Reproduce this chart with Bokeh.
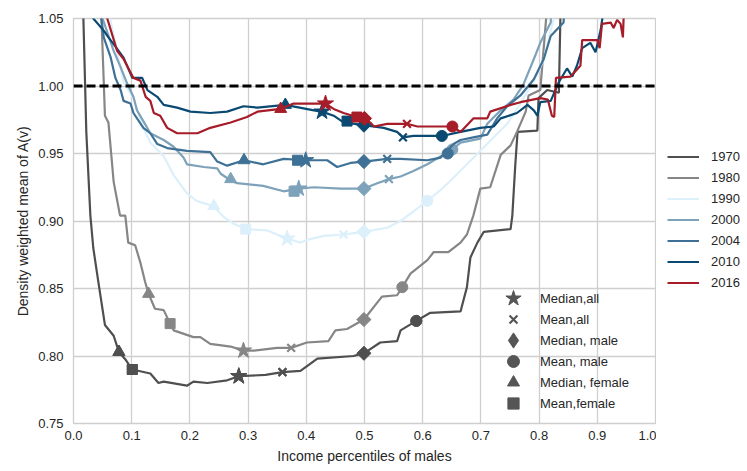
import numpy as np
from bokeh.plotting import figure
from bokeh.layouts import row
from bokeh.models import Span, Legend, LegendItem, Range1d, PrintfTickFormatter
from bokeh.embed import file_html
from bokeh.resources import INLINE

# ---------------- data ----------------
years = ["1970", "1980", "1990", "2000", "2004", "2010", "2016"]
colors = ["#4f4f4f", "#868686", "#dcf0fb", "#7da2ba", "#3e7195", "#0a4a72", "#a61c28"]

x_1970 = [0.010, 0.017, 0.022, 0.029, 0.034, 0.043, 0.054, 0.069, 0.078, 0.090, 0.101, 0.132, 0.146,
          0.155, 0.195, 0.206, 0.230, 0.264, 0.284, 0.330, 0.359, 0.390, 0.419, 0.481, 0.499, 0.527,
          0.556, 0.562, 0.589, 0.613, 0.665, 0.676, 0.682, 0.694, 0.705, 0.751, 0.754, 0.759, 0.763,
          0.797, 0.799, 0.814, 0.834, 0.837, 0.840]
y_1970 = [1.20, 1.05, 0.966, 0.904, 0.880, 0.854, 0.823, 0.815, 0.803, 0.797, 0.790, 0.787, 0.780,
          0.781, 0.778, 0.781, 0.780, 0.782, 0.785, 0.786, 0.788, 0.789, 0.798, 0.800, 0.802, 0.810,
          0.811, 0.819, 0.826, 0.832, 0.833, 0.851, 0.873, 0.884, 0.892, 0.894, 0.904, 0.941, 0.966,
          0.967, 0.991, 0.997, 0.995, 1.06, 1.10]

x_1980 = [0.046, 0.048, 0.052, 0.054, 0.060, 0.069, 0.080, 0.089, 0.094, 0.106, 0.115, 0.123, 0.129,
          0.140, 0.155, 0.166, 0.172, 0.206, 0.218, 0.235, 0.270, 0.292, 0.310, 0.350, 0.374, 0.401,
          0.438, 0.450, 0.470, 0.499, 0.530, 0.556, 0.565, 0.579, 0.608, 0.619, 0.644, 0.665, 0.676,
          0.687, 0.699, 0.716, 0.734, 0.751, 0.762, 0.777, 0.782, 0.802, 0.814, 0.818]
y_1980 = [1.10, 1.05, 1.003, 0.978, 0.973, 0.929, 0.904, 0.904, 0.884, 0.882, 0.869, 0.855, 0.846,
          0.835, 0.834, 0.824, 0.819, 0.814, 0.814, 0.809, 0.807, 0.804, 0.804, 0.806, 0.806, 0.810,
          0.811, 0.819, 0.820, 0.827, 0.844, 0.845, 0.851, 0.861, 0.871, 0.877, 0.877, 0.884, 0.890,
          0.904, 0.924, 0.925, 0.949, 0.956, 0.966, 0.981, 0.993, 0.997, 1.06, 1.10]

x_1990 = [0.060, 0.063, 0.075, 0.086, 0.103, 0.120, 0.132, 0.155, 0.160, 0.172, 0.194, 0.211, 0.218,
          0.241, 0.258, 0.275, 0.296, 0.333, 0.367, 0.390, 0.401, 0.430, 0.464, 0.499, 0.539, 0.562,
          0.590, 0.608, 0.631, 0.653, 0.676, 0.699, 0.722, 0.745, 0.768, 0.791, 0.808, 0.825, 0.830]
y_1990 = [1.10, 1.05, 1.025, 1.003, 0.991, 0.969, 0.958, 0.948, 0.944, 0.934, 0.921, 0.915, 0.914,
          0.911, 0.903, 0.898, 0.894, 0.893, 0.887, 0.884, 0.886, 0.889, 0.890, 0.892, 0.895, 0.900,
          0.909, 0.915, 0.923, 0.932, 0.942, 0.952, 0.962, 0.972, 0.987, 1.004, 1.019, 1.05, 1.10]

x_2000 = [0.045, 0.050, 0.069, 0.081, 0.092, 0.103, 0.109, 0.120, 0.132, 0.155, 0.172, 0.189, 0.195,
          0.224, 0.247, 0.253, 0.270, 0.281, 0.326, 0.361, 0.387, 0.413, 0.459, 0.499, 0.522, 0.542,
          0.562, 0.584, 0.608, 0.631, 0.651, 0.665, 0.699, 0.711, 0.734, 0.756, 0.773, 0.791, 0.802,
          0.820, 0.825]
y_2000 = [1.10, 1.05, 1.026, 1.014, 1.002, 0.992, 0.982, 0.974, 0.965, 0.960, 0.955, 0.947, 0.942,
          0.940, 0.939, 0.935, 0.930, 0.928, 0.926, 0.922, 0.924, 0.925, 0.924, 0.924, 0.928, 0.931,
          0.933, 0.937, 0.942, 0.948, 0.953, 0.958, 0.961, 0.972, 0.982, 0.990, 1.001, 1.020, 1.032,
          1.047, 1.10]

x_2004 = [0.045, 0.052, 0.064, 0.072, 0.081, 0.086, 0.098, 0.103, 0.120, 0.132, 0.144, 0.161, 0.195,
          0.235, 0.247, 0.264, 0.293, 0.326, 0.361, 0.399, 0.436, 0.453, 0.476, 0.499, 0.539, 0.562,
          0.608, 0.631, 0.642, 0.653, 0.665, 0.687, 0.711, 0.728, 0.745, 0.768, 0.791, 0.808, 0.820,
          0.831, 0.842, 0.850]
y_2004 = [1.06, 1.036, 1.021, 1.006, 0.997, 0.989, 0.987, 0.980, 0.969, 0.965, 0.957, 0.954, 0.952,
          0.951, 0.944, 0.941, 0.945, 0.942, 0.946, 0.945, 0.945, 0.940, 0.943, 0.944, 0.946, 0.946,
          0.945, 0.947, 0.952, 0.957, 0.960, 0.962, 0.964, 0.976, 0.985, 0.993, 1.005, 1.020, 1.037,
          1.042, 1.047, 1.10]

x_2010 = [0.030, 0.034, 0.052, 0.060, 0.069, 0.086, 0.101, 0.118, 0.127, 0.144, 0.155, 0.178, 0.201,
          0.235, 0.264, 0.292, 0.316, 0.364, 0.413, 0.427, 0.447, 0.464, 0.499, 0.533, 0.556, 0.566,
          0.584, 0.633, 0.665, 0.699, 0.722, 0.734, 0.762, 0.780, 0.791, 0.797, 0.802, 0.820, 0.834,
          0.848, 0.857, 0.865, 0.874, 0.888, 0.897, 0.906, 0.912]
y_2010 = [1.08, 1.05, 1.041, 1.036, 1.031, 1.021, 1.006, 1.006, 0.997, 0.992, 0.986, 0.984, 0.981,
          0.980, 0.981, 0.985, 0.984, 0.986, 0.982, 0.981, 0.978, 0.973, 0.971, 0.969, 0.966, 0.962,
          0.963, 0.963, 0.966, 0.969, 0.970, 0.976, 0.980, 0.986, 0.982, 0.978, 0.988, 0.989, 1.003,
          1.013, 1.007, 1.015, 1.028, 1.032, 1.025, 1.042, 1.06]

x_2016 = [0.055, 0.058, 0.075, 0.086, 0.103, 0.115, 0.124, 0.132, 0.138, 0.149, 0.161, 0.178, 0.213,
          0.235, 0.270, 0.298, 0.316, 0.356, 0.378, 0.401, 0.433, 0.447, 0.464, 0.487, 0.510, 0.516,
          0.539, 0.573, 0.591, 0.651, 0.665, 0.687, 0.711, 0.716, 0.751, 0.768, 0.802, 0.815, 0.822,
          0.826, 0.829, 0.854, 0.871, 0.874, 0.900, 0.904, 0.908, 0.923, 0.928, 0.934, 0.940, 0.944,
          0.946]
y_2016 = [1.07, 1.05, 1.026, 1.020, 1.006, 1.004, 0.992, 0.989, 0.980, 0.978, 0.969, 0.965, 0.965,
          0.969, 0.973, 0.977, 0.981, 0.983, 0.987, 0.987, 0.987, 0.983, 0.980, 0.977, 0.973, 0.970,
          0.972, 0.972, 0.970, 0.970, 0.966, 0.976, 0.976, 0.981, 0.986, 0.988, 0.991, 0.990, 0.978,
          0.977, 1.006, 1.007, 1.015, 1.034, 1.034, 1.028, 1.046, 1.047, 1.043, 1.049, 1.046, 1.036,
          1.06]

curves_x = [x_1970, x_1980, x_1990, x_2000, x_2004, x_2010, x_2016]
curves_y = [y_1970, y_1980, y_1990, y_2000, y_2004, y_2010, y_2016]

# summary statistics per year (x = percentile, y = value on curve)
median_all_x = [0.284, 0.292, 0.367, 0.387, 0.399, 0.427, 0.433]
median_all_y = [0.785, 0.804, 0.887, 0.924, 0.945, 0.981, 0.987]
mean_all_x = [0.359, 0.374, 0.464, 0.542, 0.539, 0.566, 0.573]
mean_all_y = [0.788, 0.806, 0.890, 0.931, 0.946, 0.962, 0.972]
median_male_x = [0.499, 0.499, 0.499, 0.499, 0.499, 0.499, 0.500]
median_male_y = [0.802, 0.827, 0.892, 0.924, 0.944, 0.971, 0.976]
mean_male_x = [0.589, 0.565, 0.608, 0.651, 0.643, 0.633, 0.651]
mean_male_y = [0.826, 0.851, 0.915, 0.953, 0.950, 0.963, 0.970]
median_female_x = [0.078, 0.129, 0.241, 0.270, 0.293, 0.364, 0.356]
median_female_y = [0.803, 0.846, 0.911, 0.931, 0.945, 0.986, 0.983]
mean_female_x = [0.101, 0.166, 0.296, 0.379, 0.385, 0.470, 0.487]
mean_female_y = [0.790, 0.824, 0.894, 0.922, 0.945, 0.974, 0.977]

stat_labels = ["Median,all", "Mean,all", "Median, male", "Mean, male", "Median, female", "Mean,female"]
stat_x = [median_all_x, mean_all_x, median_male_x, mean_male_x, median_female_x, mean_female_x]
stat_y = [median_all_y, mean_all_y, median_male_y, mean_male_y, median_female_y, mean_female_y]

x_ticks = [0.0, 0.1, 0.2, 0.3, 0.4, 0.5, 0.6, 0.7, 0.8, 0.9, 1.0]
y_ticks = [0.75, 0.80, 0.85, 0.90, 0.95, 1.00, 1.05]

# ---------------- style ----------------
FONT = "Liberation Sans"
TXT = "#262626"
GRID = "#cfcfcf"
LEG_GRAY = "#555555"
marker_styles = [  # (marker, size, angle, line_width, legend size)
    ("star", 17, 0.0, 1, 16),
    ("x", 11, 0.0, 2.2, 11),
    ("square", 10, np.pi / 4, 1, 15),
    ("circle", 11, 0.0, 1, 12),
    ("triangle", 12, 0.0, 1, 12),
    ("square", 10, 0.0, 1, 11),
]

H = 471
W1, W2 = 656, 91
FL, FT, FW, FH = 73, 18, 582, 405
p = figure(width=W1, height=H, output_backend="svg", toolbar_location=None,
           x_range=Range1d(0, 1), y_range=Range1d(0.75, 1.05),
           min_border_left=FL, min_border_top=FT, min_border_right=W1 - FL - FW,
           min_border_bottom=H - FT - FH)
p.background_fill_color = "white"
p.border_fill_color = "white"
p.outline_line_color = GRID
p.outline_line_width = 1.3

for ax, ticks, fmt in ((p.xaxis, x_ticks, "%.1f"), (p.yaxis, y_ticks, "%.2f")):
    ax.ticker = ticks
    ax.formatter = PrintfTickFormatter(format=fmt)
    ax.axis_line_color = None
    ax.major_tick_line_color = None
    ax.minor_tick_line_color = None
    ax.major_tick_out = 0
    ax.major_tick_in = 0
    ax.major_label_text_font = FONT
    ax.major_label_text_font_size = "13px"
    ax.major_label_text_color = TXT
    ax.axis_label_text_font = FONT
    ax.axis_label_text_font_size = "14px"
    ax.axis_label_text_font_style = "normal"
    ax.axis_label_text_color = TXT

p.xaxis.axis_label = "Income percentiles of males"
p.yaxis.axis_label = "Density weighted mean of A(v)"
p.xaxis.major_label_standoff = 7
p.xaxis.axis_label_standoff = 5
p.yaxis.major_label_standoff = 10
p.yaxis.axis_label_standoff = 4

p.xgrid.ticker = x_ticks
p.ygrid.ticker = y_ticks
p.grid.grid_line_color = GRID
p.grid.grid_line_width = 1.3

legend_renderers = []
for i, yr in enumerate(years):
    p.line(curves_x[i], curves_y[i], line_color=colors[i], line_width=2.2)
    for k, (mk, sz, ang, lw, lsz) in enumerate(marker_styles):
        if i == 0:
            # legend swatch renderer (for the diamond a true diamond, hidden under the rotated square)
            lmk = "diamond" if ang != 0.0 else mk
            lr = p.scatter([stat_x[k][i]], [stat_y[k][i]], marker=lmk,
                           size=(sz if ang == 0.0 else 13), fill_color=LEG_GRAY,
                           line_color=LEG_GRAY, line_width=lw)
            legend_renderers.append(lr)
        p.scatter([stat_x[k][i]], [stat_y[k][i]], marker=mk, size=sz, angle=ang,
                  fill_color=colors[i], line_color=colors[i], line_width=lw)

p.add_layout(Span(location=1.0, dimension="width", line_color="black",
                  line_width=2.8, line_dash="9 4"))

# legend of statistics markers (inside, bottom right)
for k, (mk, sz, ang, lw, lsz) in enumerate(marker_styles):
    gw = lsz / 0.4
    yc = 298 + 21 * k - FT          # row centre, px from frame top
    h = max(gw, 20)
    lg = Legend(items=[LegendItem(label=stat_labels[k], renderers=[legend_renderers[k]])],
                location=(int(round(513 - FL - gw / 2)), int(round(FH - yc - h / 2))),
                glyph_width=int(round(gw)), glyph_height=int(round(gw)), label_height=20,
                padding=0, margin=0, spacing=0, label_standoff=int(round(27 - gw / 2)),
                label_text_font=FONT, label_text_font_size="13px", label_text_color=TXT,
                background_fill_alpha=0, border_line_alpha=0)
    p.add_layout(lg)

# legend of years: a separate narrow panel to the right of the axes
q = figure(width=W2, height=H, output_backend="svg", toolbar_location=None,
           x_range=Range1d(0, 1), y_range=Range1d(5, 6),
           x_axis_location=None, y_axis_location=None,
           min_border_left=0, min_border_right=0, min_border_top=0, min_border_bottom=0)
q.outline_line_color = None
q.grid.grid_line_color = None
q.background_fill_color = "white"
q.border_fill_color = "white"
year_items = []
for i, yr in enumerate(years):
    r = q.line(curves_x[i], curves_y[i], line_color=colors[i], line_width=2.2)  # outside view
    year_items.append(LegendItem(label=yr, renderers=[r]))
leg = Legend(items=year_items, location=(667 - W1, (FT + FH) - 293), orientation="vertical",
             glyph_width=32, glyph_height=21, label_height=21, spacing=0,
             padding=0, margin=0, label_standoff=12,
             label_text_font=FONT, label_text_font_size="13px", label_text_color=TXT,
             background_fill_alpha=0, border_line_alpha=0)
q.add_layout(leg)

open("out.html", "w").write(file_html(row(p, q), INLINE))
